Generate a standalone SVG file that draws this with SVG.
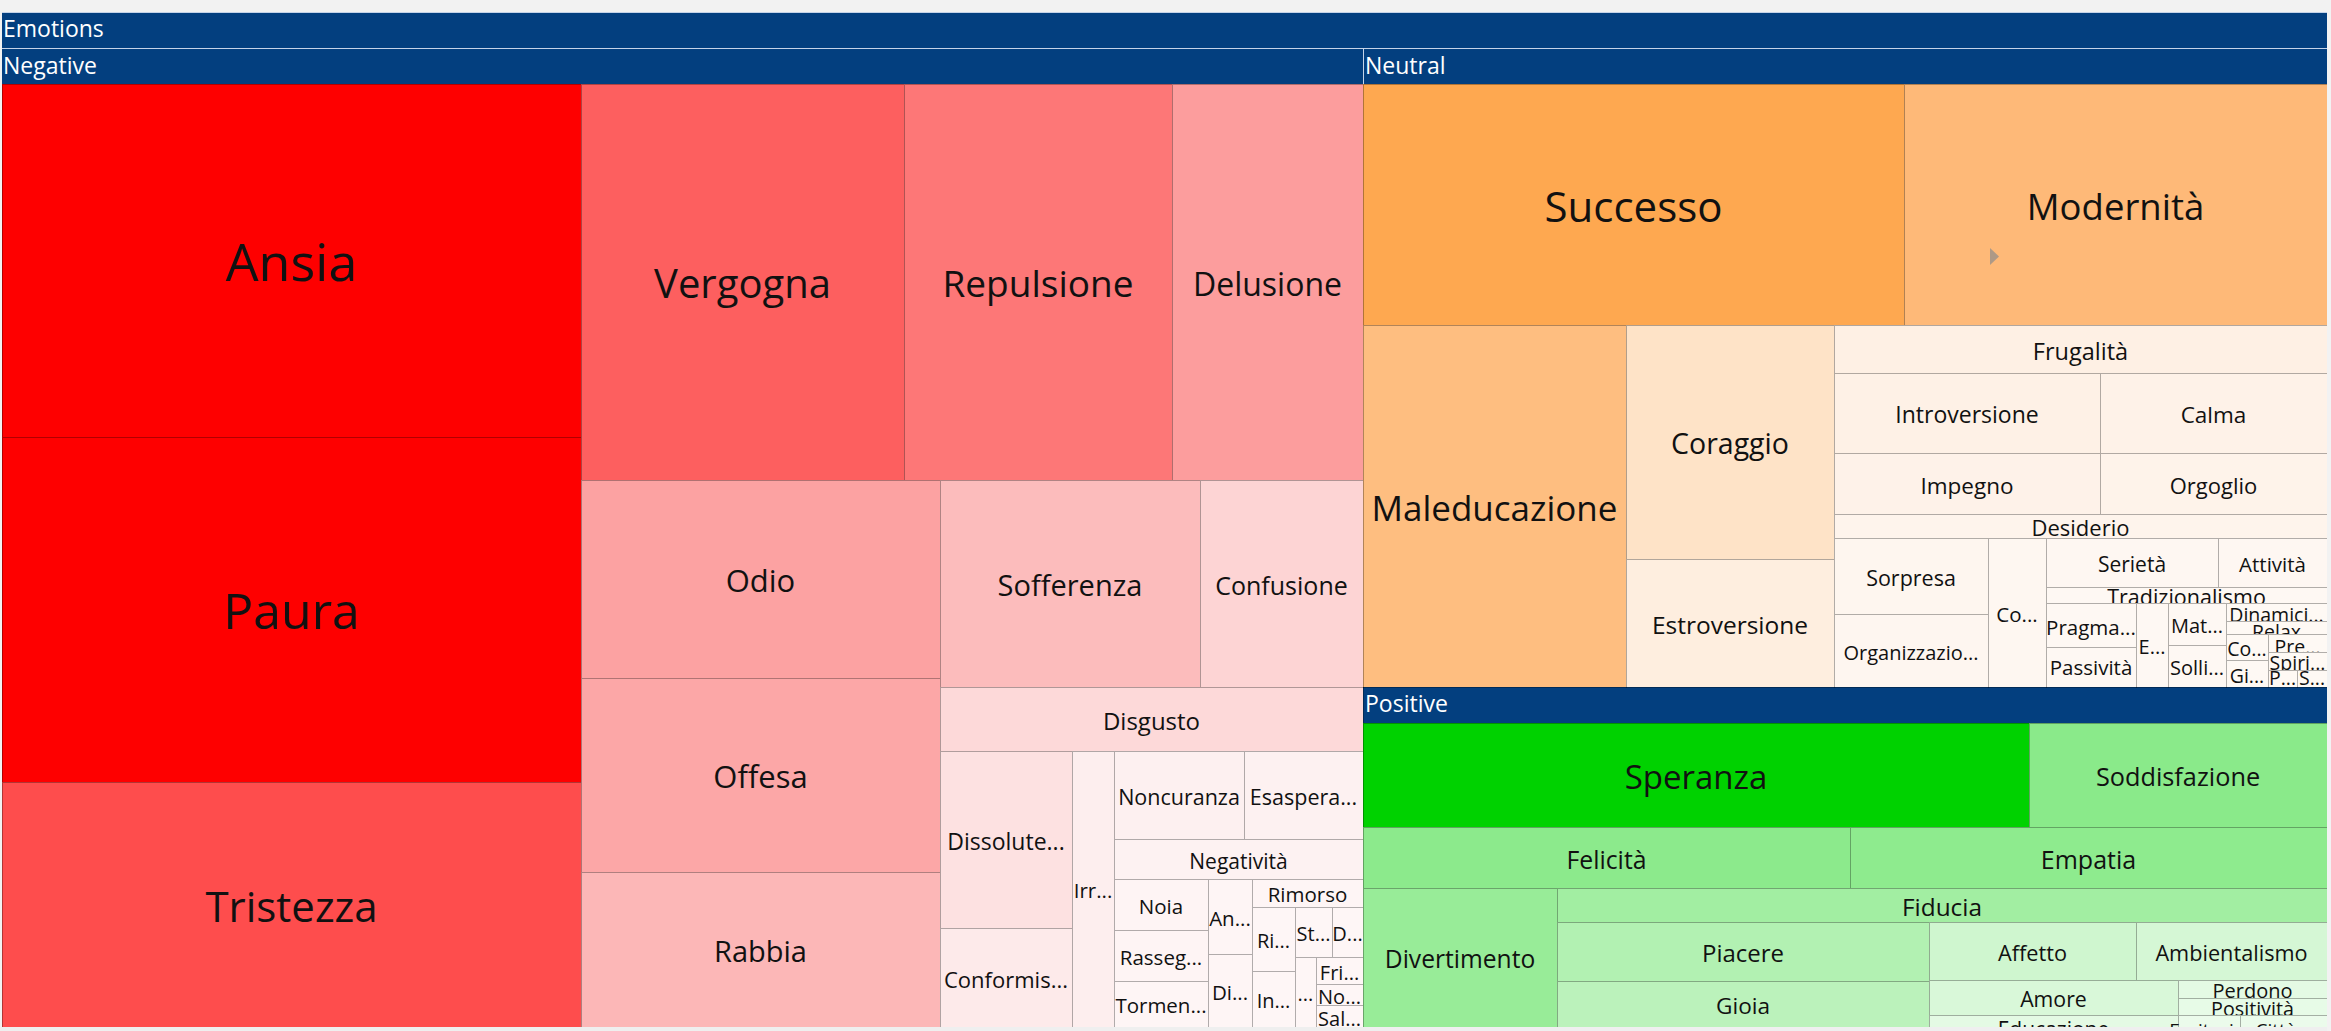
<svg xmlns="http://www.w3.org/2000/svg" width="2331" height="1031" viewBox="0 0 2331 1031">
<style>
.c{stroke:#000;stroke-opacity:.3;stroke-width:1;shape-rendering:crispEdges}
.t{font-family:"Open Sans","Noto Sans","DejaVu Sans",sans-serif;fill:#111;text-anchor:middle}
.h{font-family:"Open Sans","Noto Sans","DejaVu Sans",sans-serif;fill:#fff;font-size:23px}
.hb{fill:#033f7f}
</style>
<rect x="0" y="0" width="2331" height="1031" fill="#f2f2f2"/>
<g id="headers">
<rect class="hb" x="2" y="12" width="2325" height="36"/>
<rect class="hb" x="2" y="49" width="1361" height="35"/>
<rect class="hb" x="1363" y="49" width="964" height="35"/>
<rect class="hb" x="1363" y="687" width="964" height="36"/>
<line x1="2" y1="48.5" x2="2327" y2="48.5" stroke="#c5d3e8" stroke-width="1"/>
<line x1="2" y1="12.5" x2="2327" y2="12.5" stroke="#c5d3e8" stroke-width="1"/>
<line x1="1363.5" y1="49" x2="1363.5" y2="84" stroke="#c5d3e8" stroke-width="1"/>
<text class="h" x="3" y="37">Emotions</text>
<text class="h" x="3" y="74">Negative</text>
<text class="h" x="1365" y="74">Neutral</text>
<text class="h" x="1365" y="712">Positive</text>
</g>
<g id="negative">
<g id="n-ansia"><rect class="c" x="2" y="84" width="579" height="353" fill="#fe0000"/><text class="t" x="291.5" y="281" font-size="52">Ansia</text></g>
<g id="n-paura"><rect class="c" x="2" y="437" width="579" height="345" fill="#fe0000"/><text class="t" x="291.5" y="629" font-size="50">Paura</text></g>
<g id="n-tristezza"><rect class="c" x="2" y="782" width="579" height="245" fill="#fe4d4d"/><text class="t" x="291.5" y="921.5" font-size="42">Tristezza</text></g>
<g id="n-vergogna"><rect class="c" x="581" y="84" width="323" height="396" fill="#fd5f5f"/><text class="t" x="742.5" y="298" font-size="40">Vergogna</text></g>
<g id="n-repulsione"><rect class="c" x="904" y="84" width="268" height="396" fill="#fd7777"/><text class="t" x="1038" y="297" font-size="37">Repulsione</text></g>
<g id="n-delusione"><rect class="c" x="1172" y="84" width="191" height="396" fill="#fc9d9d"/><text class="t" x="1267.5" y="295.5" font-size="32">Delusione</text></g>
<g id="n-odio"><rect class="c" x="581" y="480" width="359" height="198" fill="#fca2a2"/><text class="t" x="760.5" y="592" font-size="31">Odio</text></g>
<g id="n-offesa"><rect class="c" x="581" y="678" width="359" height="194" fill="#fca7a7"/><text class="t" x="760.5" y="788" font-size="31">Offesa</text></g>
<g id="n-rabbia"><rect class="c" x="581" y="872" width="359" height="155" fill="#fcb7b7"/><text class="t" x="760.5" y="962" font-size="29">Rabbia</text></g>
<g id="n-sofferenza"><rect class="c" x="940" y="480" width="260" height="207" fill="#fcbcbc"/><text class="t" x="1070" y="596" font-size="29">Sofferenza</text></g>
<g id="n-confusione"><rect class="c" x="1200" y="480" width="163" height="207" fill="#fdd4d4"/><text class="t" x="1281.5" y="594.5" font-size="25">Confusione</text></g>
<g id="n-disgusto"><rect class="c" x="940" y="687" width="423" height="64" fill="#fdd9d9"/><text class="t" x="1151.5" y="729.5" font-size="24">Disgusto</text></g>
<g id="n-dissolute"><rect class="c" x="940" y="751" width="132" height="177" fill="#fde1e1"/><text class="t" x="1006" y="849.5" font-size="23">Dissolute...</text></g>
<g id="n-conformis"><rect class="c" x="940" y="928" width="132" height="99" fill="#fdeaea"/><text class="t" x="1006" y="987.5" font-size="22">Conformis...</text></g>
<g id="n-irr"><rect class="c" x="1072" y="751" width="42" height="276" fill="#fdeeee"/><text class="t" x="1093" y="898" font-size="20.5">Irr...</text></g>
<g id="n-noncuranza"><rect class="c" x="1114" y="751" width="130" height="88" fill="#fdf0f0"/><text class="t" x="1179" y="804.5" font-size="21.5">Noncuranza</text></g>
<g id="n-esaspera"><rect class="c" x="1244" y="751" width="119" height="88" fill="#fdf1f1"/><text class="t" x="1303.5" y="804.5" font-size="21.5">Esaspera...</text></g>
<g id="n-negativita"><rect class="c" x="1114" y="839" width="249" height="40" fill="#fdf2f2"/><text class="t" x="1238.5" y="868.5" font-size="21">Negatività</text></g>
<g id="n-noia"><rect class="c" x="1114" y="879" width="94" height="51" fill="#fef4f4"/><text class="t" x="1161" y="914" font-size="20.5">Noia</text></g>
<g id="n-rasseg"><rect class="c" x="1114" y="930" width="94" height="51" fill="#fef4f4"/><text class="t" x="1161" y="965" font-size="20.5">Rasseg...</text></g>
<g id="n-tormen"><rect class="c" x="1114" y="981" width="94" height="46" fill="#fef5f5"/><text class="t" x="1161" y="1013" font-size="20.5">Tormen...</text></g>
<g id="n-an"><rect class="c" x="1208" y="879" width="44" height="75" fill="#fef5f5"/><text class="t" x="1230" y="926" font-size="20.5">An...</text></g>
<g id="n-di"><rect class="c" x="1208" y="954" width="44" height="73" fill="#fef5f5"/><text class="t" x="1230" y="1000" font-size="20.5">Di...</text></g>
<g id="n-rimorso"><rect class="c" x="1252" y="879" width="111" height="28" fill="#fef5f5"/><text class="t" x="1307.5" y="902" font-size="20.5">Rimorso</text></g>
<g id="n-ri"><rect class="c" x="1252" y="907" width="43" height="64" fill="#fef6f6"/><text class="t" x="1273.5" y="948" font-size="20">Ri...</text></g>
<g id="n-in"><rect class="c" x="1252" y="971" width="43" height="56" fill="#fef6f6"/><text class="t" x="1273.5" y="1008" font-size="20">In...</text></g>
<g id="n-st"><rect class="c" x="1295" y="907" width="37" height="50" fill="#fef6f6"/><text class="t" x="1313.5" y="941" font-size="20">St...</text></g>
<g id="n-d"><rect class="c" x="1332" y="907" width="31" height="50" fill="#fef6f6"/><text class="t" x="1347.5" y="941" font-size="20">D...</text></g>
<g id="n-dots"><rect class="c" x="1295" y="957" width="21" height="70" fill="#fef6f6"/><text class="t" x="1305.5" y="1001" font-size="20">...</text></g>
<g id="n-fri"><rect class="c" x="1316" y="957" width="47" height="27" fill="#fef6f6"/><text class="t" x="1339.5" y="980" font-size="20">Fri...</text></g>
<g id="n-no"><rect class="c" x="1316" y="984" width="47" height="21" fill="#fef6f6"/><text class="t" x="1339.5" y="1004" font-size="20">No...</text></g>
<g id="n-sal"><rect class="c" x="1316" y="1005" width="47" height="22" fill="#fef6f6"/><text class="t" x="1339.5" y="1025.5" font-size="20">Sal...</text></g>
</g>
<g id="neutral">
<g id="u-successo"><rect class="c" x="1363" y="84" width="541" height="241" fill="#fea850"/><text class="t" x="1633.5" y="221.5" font-size="42">Successo</text></g>
<g id="u-modernita"><rect class="c" x="1904" y="84" width="423" height="241" fill="#feb978"/><text class="t" x="2115.5" y="219.5" font-size="36.5">Modernità</text><polygon points="1990,248 1999,256.5 1990,265" fill="#8c8c8c" fill-opacity=".7"/></g>
<g id="u-maleducazione"><rect class="c" x="1363" y="325" width="263" height="362" fill="#febe80"/><text class="t" x="1494.5" y="520.5" font-size="35">Maleducazione</text></g>
<g id="u-coraggio"><rect class="c" x="1626" y="325" width="208" height="234" fill="#fee3c7"/><text class="t" x="1730" y="454" font-size="28.5">Coraggio</text></g>
<g id="u-estroversione"><rect class="c" x="1626" y="559" width="208" height="128" fill="#feeedf"/><text class="t" x="1730" y="633.5" font-size="24.5">Estroversione</text></g>
<g id="u-frugalita"><rect class="c" x="1834" y="325" width="493" height="48" fill="#fef0e4"/><text class="t" x="2080.5" y="359.5" font-size="23.5">Frugalità</text></g>
<g id="u-introversione"><rect class="c" x="1834" y="373" width="266" height="80" fill="#fef1e6"/><text class="t" x="1967" y="423" font-size="23">Introversione</text></g>
<g id="u-calma"><rect class="c" x="2100" y="373" width="227" height="80" fill="#fef2e8"/><text class="t" x="2213.5" y="423" font-size="22.5">Calma</text></g>
<g id="u-impegno"><rect class="c" x="1834" y="453" width="266" height="61" fill="#fef2e9"/><text class="t" x="1967" y="493.5" font-size="22.5">Impegno</text></g>
<g id="u-orgoglio"><rect class="c" x="2100" y="453" width="227" height="61" fill="#fef3ea"/><text class="t" x="2213.5" y="493.5" font-size="22">Orgoglio</text></g>
<g id="u-desiderio"><rect class="c" x="1834" y="514" width="493" height="24" fill="#fef4ec"/><text class="t" x="2080.5" y="536" font-size="22">Desiderio</text></g>
<g id="u-sorpresa"><rect class="c" x="1834" y="538" width="154" height="76" fill="#fef6ef"/><text class="t" x="1911" y="585.5" font-size="21.5">Sorpresa</text></g>
<g id="u-organizzazio"><rect class="c" x="1834" y="614" width="154" height="73" fill="#fef6f0"/><text class="t" x="1911" y="659.5" font-size="20">Organizzazio...</text></g>
<g id="u-co1"><rect class="c" x="1988" y="538" width="58" height="149" fill="#fef7f1"/><text class="t" x="2017" y="622" font-size="20.5">Co...</text></g>
<g id="u-serieta"><rect class="c" x="2046" y="538" width="172" height="49" fill="#fef7f2"/><text class="t" x="2132" y="572" font-size="21">Serietà</text></g>
<g id="u-attivita"><rect class="c" x="2218" y="538" width="109" height="49" fill="#fef7f2"/><text class="t" x="2272.5" y="572" font-size="20.5">Attività</text></g>
<g id="u-tradizionalismo"><rect class="c" x="2046" y="587" width="281" height="16" fill="#fef8f3"/><text class="t" x="2186.5" y="605" font-size="21.5">Tradizionalismo</text></g>
<g id="u-pragma"><rect class="c" x="2046" y="603" width="90" height="44" fill="#fef8f3"/><text class="t" x="2091" y="634.5" font-size="20.5">Pragma...</text></g>
<g id="u-passivita"><rect class="c" x="2046" y="647" width="90" height="40" fill="#fef8f3"/><text class="t" x="2091" y="675" font-size="20.5">Passività</text></g>
<g id="u-e"><rect class="c" x="2136" y="603" width="32" height="84" fill="#fef8f3"/><text class="t" x="2152" y="654" font-size="20">E...</text></g>
<g id="u-mat"><rect class="c" x="2168" y="603" width="58" height="42" fill="#fef8f3"/><text class="t" x="2197" y="633" font-size="20">Mat...</text></g>
<g id="u-solli"><rect class="c" x="2168" y="645" width="58" height="42" fill="#fef8f3"/><text class="t" x="2197" y="675" font-size="20">Solli...</text></g>
<g id="u-dinamici"><rect class="c" x="2226" y="603" width="101" height="18" fill="#fef9f4"/><text class="t" x="2276.5" y="622" font-size="19.5">Dinamici...</text></g>
<g id="u-relax"><rect class="c" x="2226" y="621" width="101" height="13" fill="#fef9f4"/><text class="t" x="2276.5" y="639" font-size="19.5">Relax</text></g>
<g id="u-co2"><rect class="c" x="2226" y="634" width="42" height="26" fill="#fef9f4"/><text class="t" x="2247" y="656" font-size="19.5">Co...</text></g>
<g id="u-gi"><rect class="c" x="2226" y="660" width="42" height="27" fill="#fef9f4"/><text class="t" x="2247" y="682.5" font-size="19.5">Gi...</text></g>
<g id="u-pre"><rect class="c" x="2268" y="634" width="59" height="18" fill="#fef9f4"/><text class="t" x="2297.5" y="654" font-size="19.5">Pre...</text></g>
<g id="u-spiri"><rect class="c" x="2268" y="652" width="59" height="18" fill="#fef9f4"/><text class="t" x="2297.5" y="670" font-size="19.5">Spiri...</text></g>
<g id="u-p"><rect class="c" x="2268" y="670" width="29" height="17" fill="#fef9f4"/><text class="t" x="2282.5" y="685" font-size="19.5">P...</text></g>
<g id="u-s"><rect class="c" x="2297" y="670" width="30" height="17" fill="#fef9f4"/><text class="t" x="2312" y="685" font-size="19.5">S...</text></g>
</g>
<g id="positive">
<g id="p-speranza"><rect class="c" x="1363" y="723" width="666" height="104" fill="#00d200"/><text class="t" x="1696" y="789" font-size="33">Speranza</text></g>
<g id="p-soddisfazione"><rect class="c" x="2029" y="723" width="298" height="104" fill="#8aea8a"/><text class="t" x="2178" y="786" font-size="25.3">Soddisfazione</text></g>
<g id="p-felicita"><rect class="c" x="1363" y="827" width="487" height="61" fill="#8cea8c"/><text class="t" x="1606.5" y="868.5" font-size="24.8">Felicità</text></g>
<g id="p-empatia"><rect class="c" x="1850" y="827" width="477" height="61" fill="#8eeb8e"/><text class="t" x="2088.5" y="868.5" font-size="25">Empatia</text></g>
<g id="p-divertimento"><rect class="c" x="1363" y="888" width="194" height="139" fill="#98ec98"/><text class="t" x="1460" y="968" font-size="24.6">Divertimento</text></g>
<g id="p-fiducia"><rect class="c" x="1557" y="888" width="770" height="34" fill="#a2eea2"/><text class="t" x="1942" y="915.5" font-size="24.4">Fiducia</text></g>
<g id="p-piacere"><rect class="c" x="1557" y="922" width="372" height="59" fill="#b2f1b2"/><text class="t" x="1743" y="962" font-size="24">Piacere</text></g>
<g id="p-affetto"><rect class="c" x="1929" y="922" width="207" height="58" fill="#cff6cf"/><text class="t" x="2032.5" y="960.5" font-size="21.7">Affetto</text></g>
<g id="p-ambientalismo"><rect class="c" x="2136" y="922" width="191" height="58" fill="#d5f7d5"/><text class="t" x="2231.5" y="960.5" font-size="21.7">Ambientalismo</text></g>
<g id="p-gioia"><rect class="c" x="1557" y="981" width="372" height="50" fill="#bbf2bb"/><text class="t" x="1743" y="1014" font-size="22.6">Gioia</text></g>
<g id="p-amore"><rect class="c" x="1929" y="980" width="249" height="35" fill="#d9f8d9"/><text class="t" x="2053.5" y="1007" font-size="21.3">Amore</text></g>
<g id="p-perdono"><rect class="c" x="2178" y="980" width="149" height="18" fill="#e4fae4"/><text class="t" x="2252.5" y="998" font-size="20">Perdono</text></g>
<g id="p-positivita"><rect class="c" x="2178" y="998" width="149" height="17" fill="#e7fbe7"/><text class="t" x="2252.5" y="1015.5" font-size="19.7">Positività</text></g>
<g id="p-educazione"><rect class="c" x="1929" y="1015" width="249" height="16" fill="#e4fae4"/><text class="t" x="2053.5" y="1037" font-size="21">Educazione</text></g>
<g id="p-eccitazi"><rect class="c" x="2178" y="1015" width="62" height="16" fill="#ebfbeb"/><text class="t" x="2209" y="1037" font-size="19">Eccitazi...</text></g>
<g id="p-citta"><rect class="c" x="2240" y="1015" width="87" height="16" fill="#ebfbeb"/><text class="t" x="2283.5" y="1037" font-size="19">Città...</text></g>
</g>
<g id="connectors"></g>
<rect x="0" y="1027" width="2331" height="4" fill="#efefef"/>
<rect x="2327" y="0" width="4" height="1031" fill="#f2f2f2"/>
</svg>
